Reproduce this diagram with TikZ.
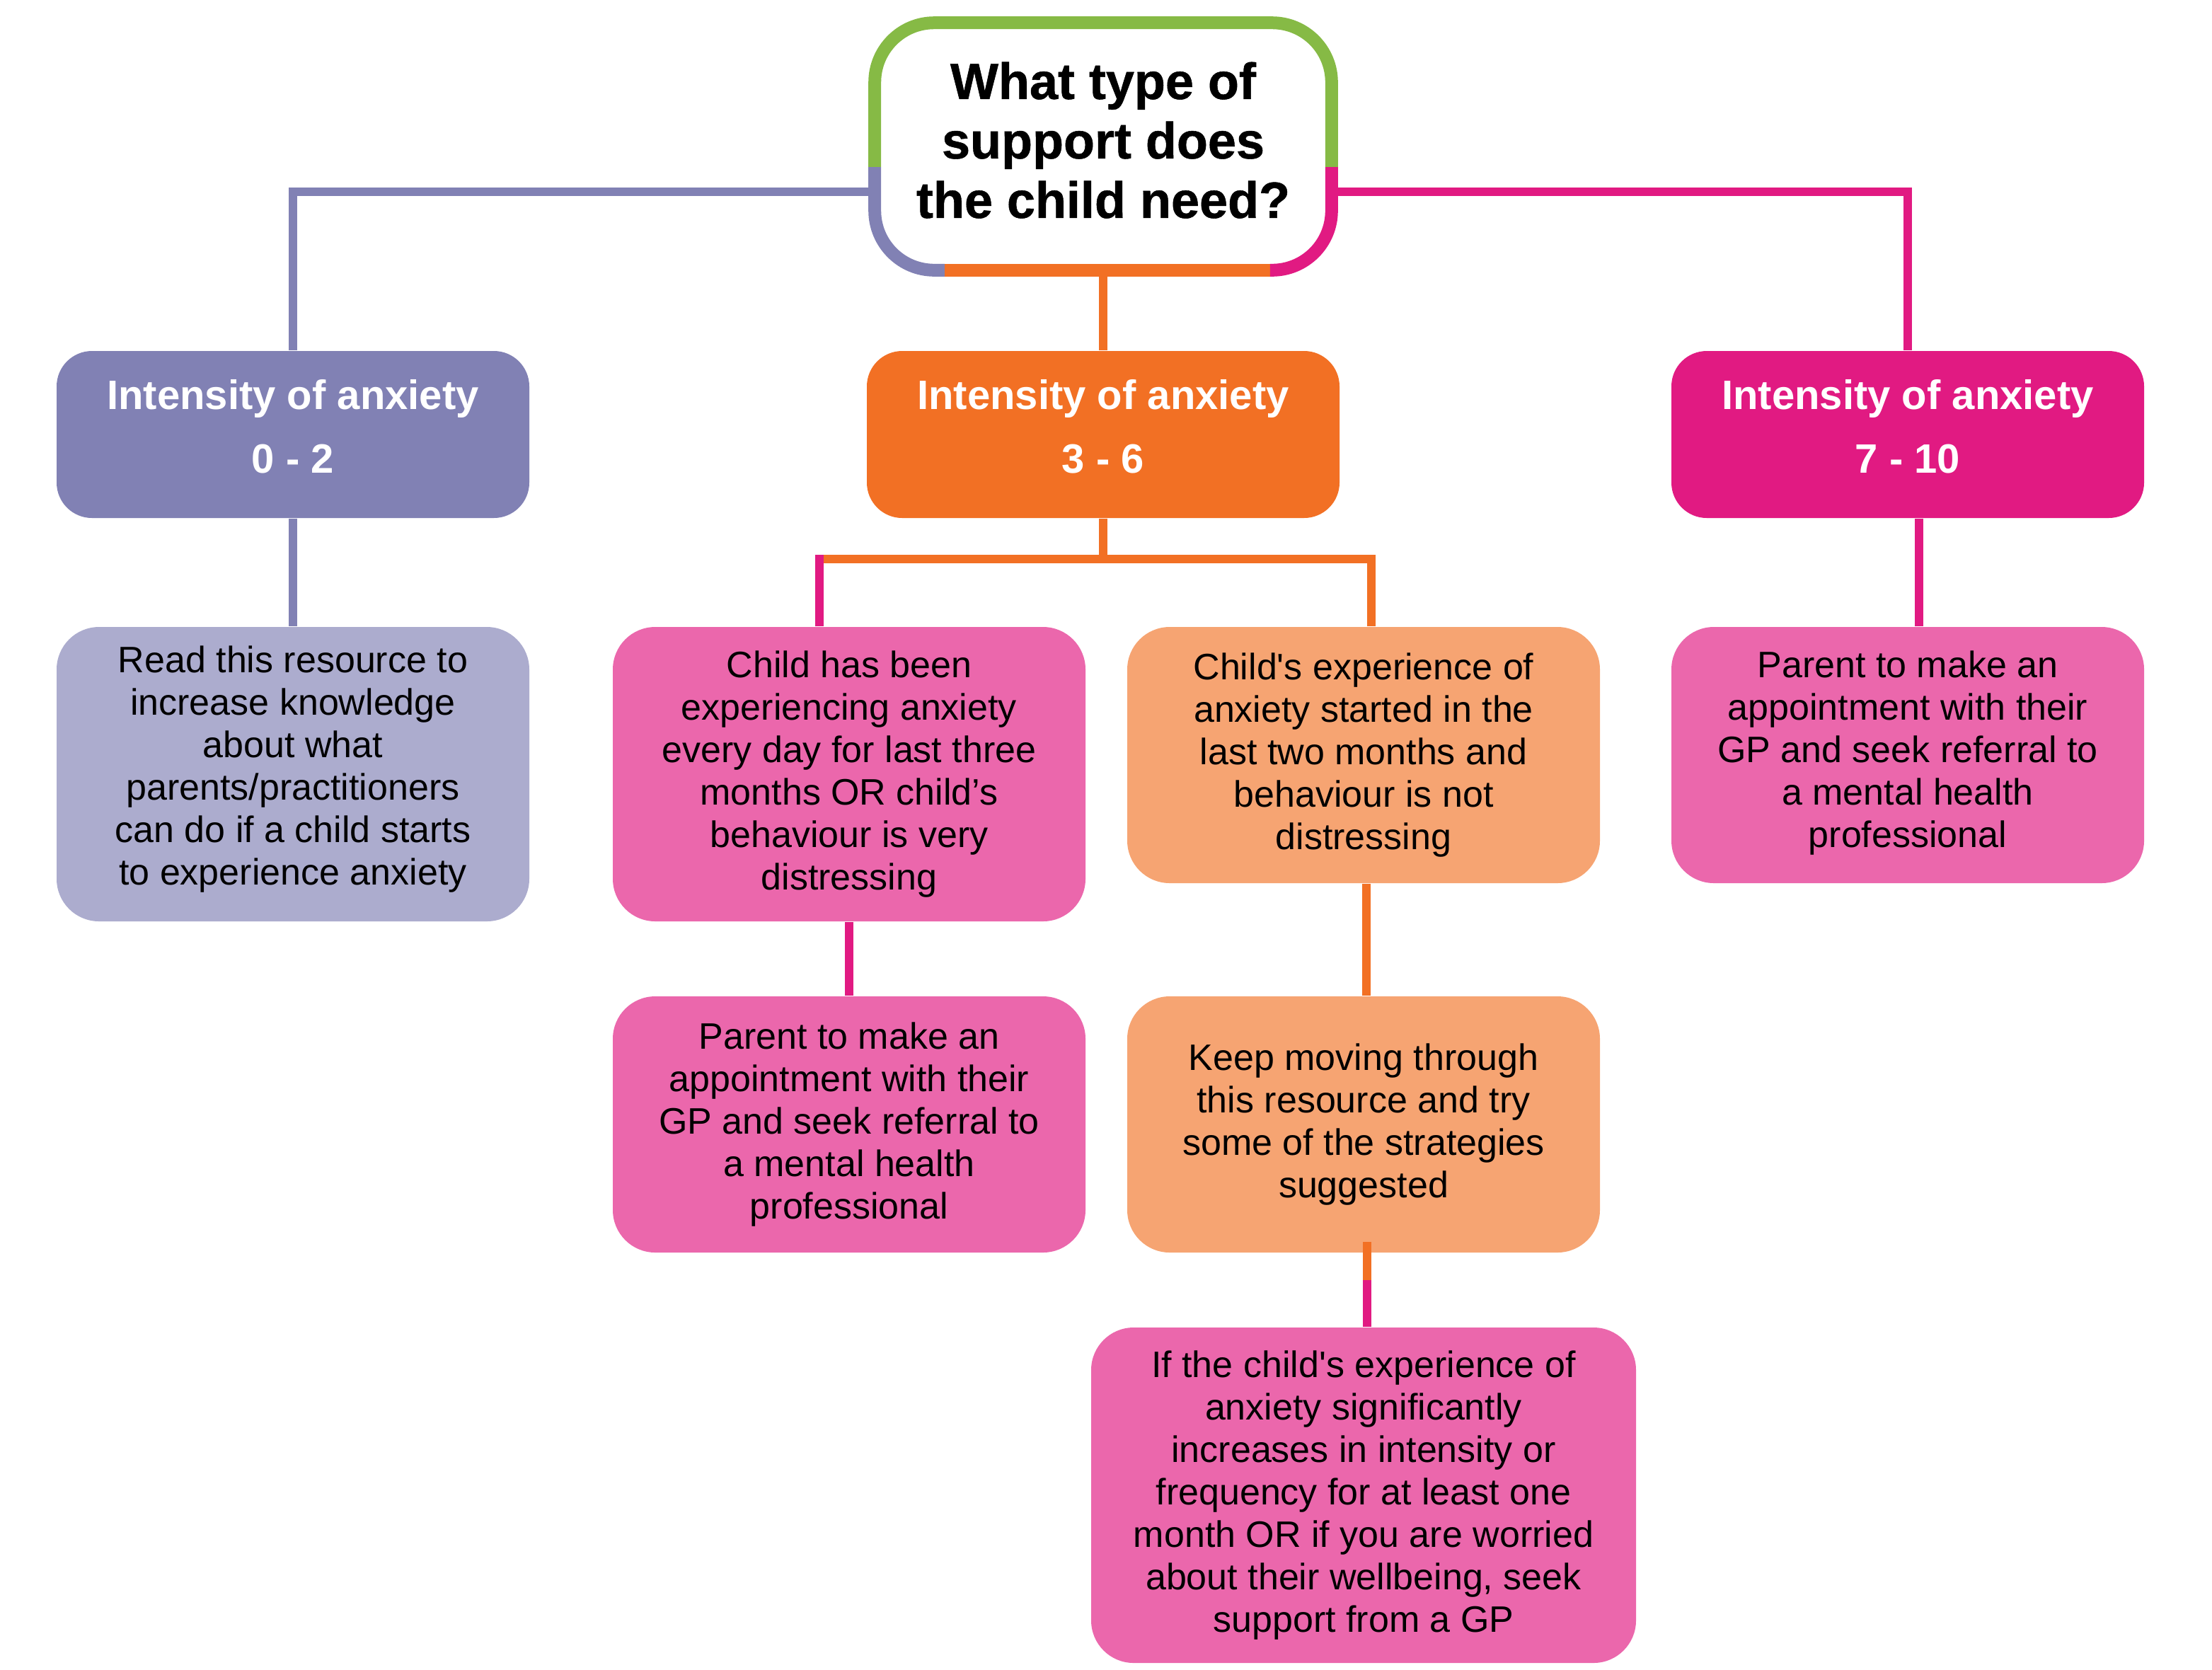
\documentclass[tikz,border=0pt]{standalone}
\usepackage{fontspec}
\setmainfont{Liberation Sans}
\newfontfamily\heavyfont{Liberation Sans Bold}[FakeBold=0.8]
\definecolor{qgreen}{HTML}{86BA45}
\definecolor{qpurple}{HTML}{8181B4}
\definecolor{lpurple}{HTML}{ACACCE}
\definecolor{qorange}{HTML}{F27024}
\definecolor{lorange}{HTML}{F6A472}
\definecolor{qmagenta}{HTML}{E11A82}
\definecolor{lpink}{HTML}{EB67AC}
\begin{document}
\begin{tikzpicture}[x=0.5pt,y=-0.5pt,
  lvl/.style={rectangle,rounded corners=12.5pt,minimum width=167pt,minimum height=59pt,
    inner sep=0pt,align=center,text=white,text depth=6pt,font=\bfseries\fontsize{14.5}{22.5}\selectfont},
  info/.style={rectangle,rounded corners=15pt,minimum width=167pt,inner sep=0pt,
    align=center,font=\fontsize{13}{15}\selectfont},
  frame/.style={line width=4.5pt,rounded corners=21pt},
  link/.style={line width=3pt}]
\useasboundingbox (0,0) rectangle (1563,1179.5);

% question
\node (q) [minimum width=161pt,minimum height=87pt,inner sep=0pt,align=center,text depth=4.6pt,
  font=\heavyfont\fontsize{18}{21}\selectfont] at (779.5,103.5) {What type of\\support does\\the child need?};
\draw[frame,qgreen] ([yshift=-7.25pt]q.west) -- (q.north west) -- (q.north east) -- ([yshift=-7.25pt]q.east);
\draw[frame,qpurple] ([yshift=-7.25pt]q.west) -- (q.south west) -- ([xshift=24.75pt]q.south west);
\draw[frame,qorange] ([xshift=24.75pt]q.south west) -- ([xshift=-21.75pt]q.south east);
\draw[frame,qmagenta] ([xshift=-21.75pt]q.south east) -- (q.south east) -- ([yshift=-7.25pt]q.east);

% intensity
\node (low) [lvl,fill=qpurple] at (207,307) {Intensity of anxiety\\0 - 2};
\node (mid) [lvl,fill=qorange] at (779.5,307) {Intensity of anxiety\\3 - 6};
\node (high) [lvl,fill=qmagenta] at (1348,307) {Intensity of anxiety\\7 - 10};

% advice
\node (read) [info,fill=lpurple,minimum height=104pt,text depth=6pt] at (207,547)
  {Read this resource to\\increase knowledge\\about what\\parents/practitioners\\can do if a child starts\\to experience anxiety};
\node (daily) [info,fill=lpink,minimum height=104pt] at (600,547)
  {Child has been\\experiencing anxiety\\every day for last three\\months OR child’s\\behaviour is very\\distressing};
\node (recent) [info,fill=lorange,minimum height=90.5pt] at (963.5,533.5)
  {Child\textquotesingle s experience of\\anxiety started in the\\last two months and\\behaviour is not\\distressing};
\node (gpa) [info,fill=lpink,minimum height=90.5pt,text depth=4pt] at (1348,533.5)
  {Parent to make an\\appointment with their\\GP and seek referral to\\a mental health\\professional};
\node (gpb) [info,fill=lpink,minimum height=90.5pt] at (600,794.5)
  {Parent to make an\\appointment with their\\GP and seek referral to\\a mental health\\professional};
\node (keep) [info,fill=lorange,minimum height=90.5pt] at (963.5,794.5)
  {Keep moving through\\this resource and try\\some of the strategies\\suggested};
\node (worse) [info,fill=lpink,minimum width=192.5pt,minimum height=118.5pt] at (963.5,1056.5)
  {If the child\textquotesingle s experience of\\anxiety significantly\\increases in intensity or\\frequency for at least one\\month OR if you are worried\\about their wellbeing, seek\\support from a GP};

% links
\coordinate (split) at (779.5,395);
\coordinate (da) at ([xshift=-10.5pt]daily.north);
\coordinate (ra) at ([xshift=2.75pt]recent.north);
\coordinate (kb) at (966,904.5);
\draw[link,qpurple] ([yshift=-16pt]q.west) -| (low.north);
\draw[link,qmagenta] ([yshift=-16pt]q.east) -| (high.north);
\draw[link,qorange] (q.south) -- (mid.north);
\draw[link,qpurple] (low.south) -- (read.north);
\draw[link,qorange] (mid.south) -- (split);
\draw[link,qorange] (da |- split) -- (ra |- split) -- (ra);
\draw[link,qmagenta] ([yshift=1.5pt]da |- split) -- (da);
\draw[link,qmagenta] ([xshift=4pt]high.south) -- ([xshift=4pt]gpa.north);
\draw[link,qmagenta] (daily.south) -- (gpb.north);
\draw[link,qorange] ([xshift=1pt]recent.south) -- ([xshift=1pt]keep.north);
\draw[link,qorange] ([yshift=4pt,xshift=1.25pt]keep.south) -- (kb);
\draw[link,qmagenta] (kb) -- ([xshift=1.25pt]worse.north);
\end{tikzpicture}
\end{document}
